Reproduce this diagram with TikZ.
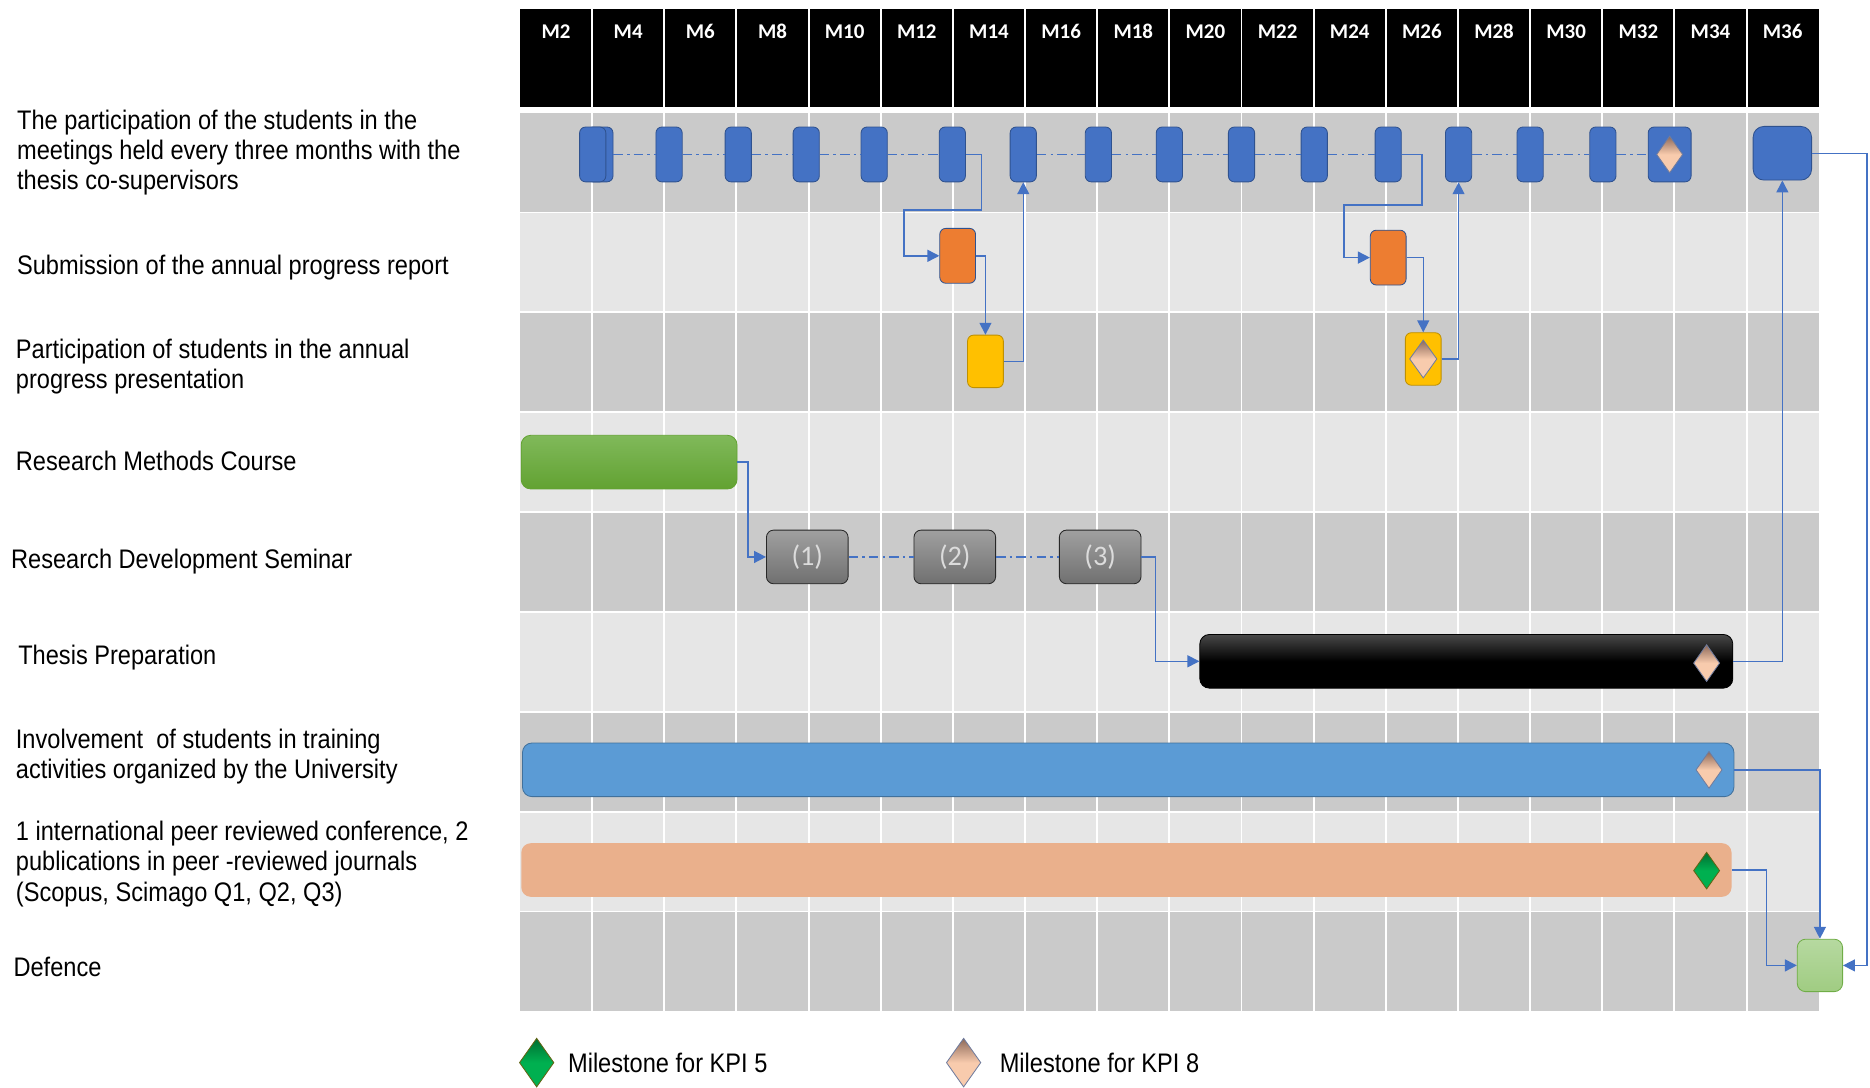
\documentclass[tikz,border=0pt]{standalone}
\usepackage{fontspec}
\setmainfont{Liberation Sans}[FakeStretch=0.88]
\newfontfamily\calfont{Carlito}
\usetikzlibrary{shapes.geometric,arrows.meta}

\definecolor{rowdark}{RGB}{202,202,202}
\definecolor{rowlight}{RGB}{230,230,230}
\definecolor{linkblue}{RGB}{68,114,196}
\definecolor{meetblue}{RGB}{68,114,196}
\definecolor{meetline}{RGB}{47,82,143}
\definecolor{reportorange}{RGB}{237,125,49}
\definecolor{presentyellow}{RGB}{255,192,0}
\definecolor{presentline}{RGB}{191,144,0}
\definecolor{rmtop}{RGB}{128,185,90}
\definecolor{rmbottom}{RGB}{98,162,50}
\definecolor{semtop}{RGB}{160,160,160}
\definecolor{sembottom}{RGB}{112,112,112}
\definecolor{semline}{RGB}{40,40,40}
\definecolor{semtext}{RGB}{220,220,220}
\definecolor{thtop}{RGB}{72,72,72}
\definecolor{trainblue}{RGB}{91,155,213}
\definecolor{trainline}{RGB}{65,113,156}
\definecolor{pubpeach}{RGB}{234,176,140}
\definecolor{deftop}{RGB}{182,217,160}
\definecolor{defbottom}{RGB}{160,204,130}
\definecolor{defline}{RGB}{112,173,71}
\definecolor{peach}{RGB}{248,203,173}
\definecolor{tantop}{RGB}{140,105,90}
\definecolor{tanline}{RGB}{112,124,158}
\definecolor{kpigreen}{RGB}{0,176,80}
\definecolor{kpigreentop}{RGB}{0,110,50}
\definecolor{kpifiveline}{RGB}{100,100,20}

\begin{document}
\begin{tikzpicture}[x=0.02cm, y=-0.02cm,
  >={Triangle[length=0.2cm,width=0.2cm]},
  lbl/.style={anchor=west, inner sep=0pt, align=left, font=\fontsize{12.8}{14.4}\selectfont},
  hdr/.style={text=white, inner sep=0pt, font=\calfont\bfseries\fontsize{10}{12}\selectfont},
  meet/.style={draw=meetline, fill=meetblue, rounded corners=0.1cm, minimum width=0.44cm, minimum height=0.92cm, inner sep=0pt},
  report/.style={draw=meetline, fill=reportorange, rounded corners=0.1cm, minimum width=0.6cm, minimum height=0.92cm, inner sep=0pt},
  present/.style={draw=presentline, fill=presentyellow, rounded corners=0.1cm, minimum width=0.6cm, minimum height=0.88cm, inner sep=0pt},
  bar/.style={rounded corners=0.16cm, minimum height=0.9cm, inner sep=0pt},
  semi/.style={rounded corners=0.12cm, minimum width=1.37cm, minimum height=0.9cm, inner sep=0pt, draw=semline, top color=semtop, bottom color=sembottom, text=semtext, font=\calfont\fontsize{13.5}{16}\selectfont},
  defbox/.style={rounded corners=0.14cm, minimum width=0.76cm, minimum height=0.88cm, inner sep=0pt, draw=defline, top color=deftop, bottom color=defbottom},
  kpieight/.style={diamond, aspect=0.5, inner sep=0pt, minimum width=0.44cm, minimum height=0.62cm, draw=tanline, top color=tantop, bottom color=peach, middle color=peach},
  kpifive/.style={diamond, aspect=0.5, inner sep=0pt, minimum width=0.44cm, minimum height=0.62cm, draw=kpifiveline, top color=kpigreentop, bottom color=kpigreen, middle color=kpigreen},
  link/.style={draw=linkblue, line width=0.7pt, ->},
  chain/.style={draw=linkblue, line width=0.6pt, dash pattern=on 0.16cm off 0.07cm on 0.04cm off 0.07cm}]

\useasboundingbox (0,0) rectangle (1568,912);

% header and rows
\fill[black] (436,7.5) rectangle (1525,89.5);
\foreach \r/\c in {0/rowdark,1/rowlight,2/rowdark,3/rowlight,4/rowdark,5/rowlight,6/rowdark,7/rowlight,8/rowdark}
  \fill[\c] (436,{94.5+83.72*\r}) rectangle (1525,{94.5+83.72*(\r+1)});
\foreach \k in {1,...,17}
  \draw[white, line width=0.9pt] ({436+60.5*\k},7.5) -- ({436+60.5*\k},848);
\foreach \r in {1,...,8}
  \draw[white, line width=0.9pt] (436,{94.5+83.72*\r}) -- (1525,{94.5+83.72*\r});
\foreach \m [count=\k from 0] in {2,4,...,36}
  \node[hdr] (h\m) at ({466.25+60.5*\k},26.6) {M\m};

% activity labels
\node[lbl] (t1) at (14,128) {The participation of the students in the\\meetings held every three months with the\\thesis co-supervisors};
\node[lbl] (t2) at (14,224) {Submission of the annual progress report};
\node[lbl] (t3) at (13,307.5) {Participation of students in the annual\\progress presentation};
\node[lbl] (t4) at (13,386.5) {Research Methods Course};
\node[lbl] (t5) at (9,470.5) {Research Development Seminar};
\node[lbl] (t6) at (15,551) {Thesis Preparation};
\node[lbl] (t7) at (13,634.5) {Involvement\ \ of students in training\\activities organized by the University};
\node[lbl] (t8) at (13,724.5) {1 international peer reviewed conference, 2\\publications in peer -reviewed journals\\(Scopus, Scimago Q1, Q2, Q3)};
\node[lbl] (t9) at (11,810.5) {Defence};

% meetings
\node[meet] (m1b) at (503,129.5) {};
\node[meet] (m1a) at (497,129.5) {};
\foreach \n/\x in {2/561,3/619,4/676,5/733,6/798.5,7/858,8/921,9/980.5,10/1041,11/1102,12/1164,13/1223,14/1283,15/1344}
  \node[meet] (m\n) at (\x,129.5) {};
\node[meet, minimum width=0.72cm] (m16) at (1400,129.5) {};
\node[kpieight] (k16) at (m16) {};
\node[meet, minimum width=0.98cm, minimum height=0.9cm, rounded corners=0.18cm] (m17) at (1494.5,128.5) {};
\foreach \a/\b in {1b/2,2/3,3/4,4/5,5/6,7/8,8/9,9/10,10/11,11/12,13/14,14/15,15/16}
  \draw[chain] (m\a) -- (m\b);

% reports and presentations
\node[report] (rep1) at (803,214.5) {};
\node[report] (rep2) at (1164,216) {};
\node[present] (pre1) at (826.3,303) {};
\node[present] (pre2) at (1193.4,301) {};
\node[kpieight, minimum width=0.46cm, minimum height=0.64cm] (k2) at (pre2) {};

% bars
\node[bar, minimum width=3.62cm, top color=rmtop, bottom color=rmbottom, draw=rmbottom] (rmc) at (527.5,387.5) {};
\node[semi] (sem1) at (676.9,467) {(1)};
\node[semi] (sem2) at (800.6,467) {(2)};
\node[semi] (sem3) at (922.5,467) {(3)};
\draw[chain] (sem1) -- (sem2);
\draw[chain] (sem2) -- (sem3);
\node[bar, minimum width=8.94cm, top color=thtop, bottom color=black, middle color=black, draw=black] (thesis) at (1229.5,554.5) {};
\node[kpieight] (k3) at (1431,556) {};
\node[bar, minimum width=20.32cm, fill=trainblue, draw=trainline] (train) at (946,645.5) {};
\node[kpieight] (k4) at (1433,645.5) {};
\node[bar, minimum width=20.3cm, fill=pubpeach] (pub) at (944.5,729.5) {};
\node[kpifive] (k5) at (1431,730) {};
\node[defbox] (def) at (1526,809.5) {};

% connectors
\path[link] (m6.east) -- ++(13,0) |- (758,176) |- (rep1.west);
\path[link] (rep1.east) -| (pre1.north);
\path[link] (pre1.east) -| (m7.south);
\path[link] (m12.east) -- ++(17,0) |- (1127,172) |- (rep2.west);
\path[link] (rep2.east) -| (pre2.north);
\path[link] (pre2.east) -| (m13.south);
\path[link] (rmc.east) -- ++(9,0) |- (sem1.west);
\path[link] (sem3.east) -- ++(12,0) |- (thesis.west);
\path[link] (thesis.east) -| (m17.south);
\path[link] (train.east) -| (def.north);
\path[link] (pub.east) -- ++(29,0) |- (def.west);
\path[link] (m17.east) -- ++(46,0) |- (def.east);

% legend
\node[kpifive, minimum width=0.58cm, minimum height=0.82cm] (l5) at (450,891) {};
\node[lbl] (l5t) at (476,891) {Milestone for KPI 5};
\node[kpieight, minimum width=0.58cm, minimum height=0.82cm] (l8) at (808,891) {};
\node[lbl] (l8t) at (838,891) {Milestone for KPI 8};
\end{tikzpicture}
\end{document}
